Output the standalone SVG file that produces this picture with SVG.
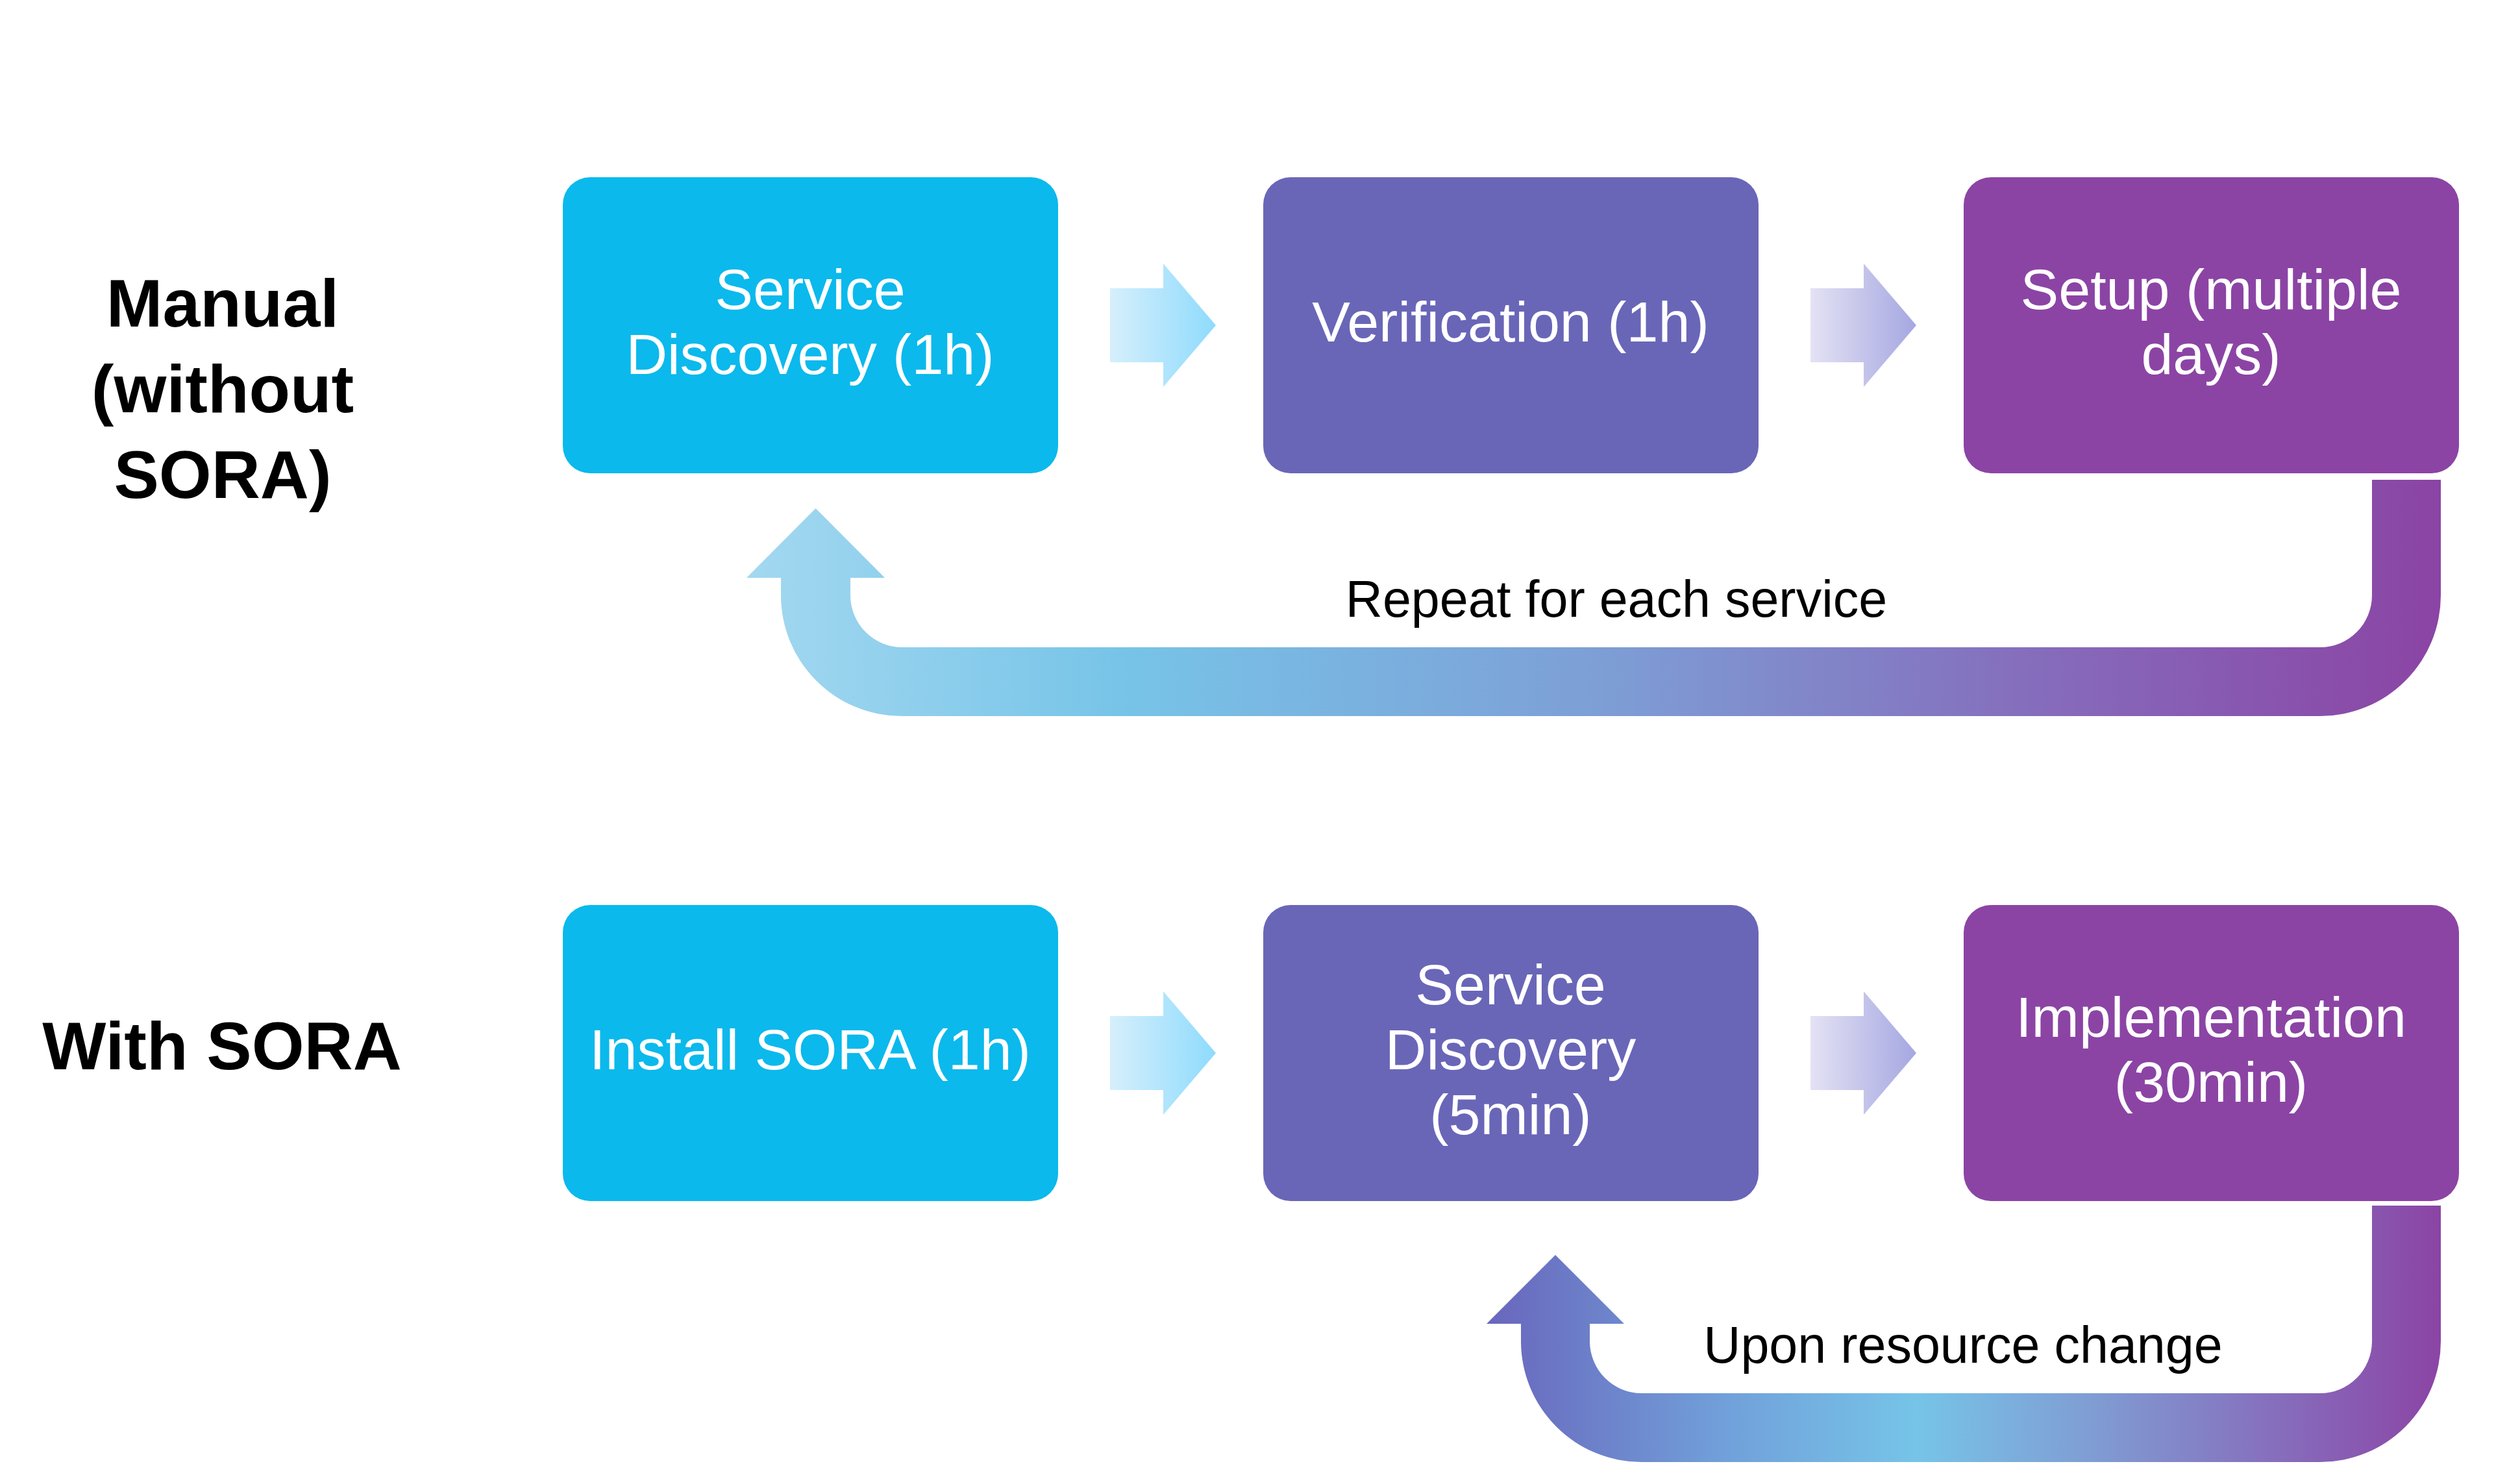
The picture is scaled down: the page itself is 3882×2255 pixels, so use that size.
<svg xmlns="http://www.w3.org/2000/svg" width="3882" height="2255" viewBox="0 0 3882 2255">
<defs>
<linearGradient id="gA" x1="0" y1="0" x2="1" y2="0"><stop offset="0" stop-color="#D6EFFC"/><stop offset="1" stop-color="#8EDBFD"/></linearGradient>
<linearGradient id="gB" x1="0" y1="0" x2="1" y2="0"><stop offset="0" stop-color="#E4E2F4"/><stop offset="1" stop-color="#A5A7E1"/></linearGradient>
<linearGradient id="gTop" gradientUnits="userSpaceOnUse" x1="1150" y1="0" x2="3760" y2="0">
<stop offset="0" stop-color="#A3D8F0"/><stop offset="0.22" stop-color="#77C4E8"/><stop offset="0.5" stop-color="#7D9FD6"/><stop offset="0.78" stop-color="#8669BA"/><stop offset="1" stop-color="#8B44A4"/></linearGradient>
<linearGradient id="gBot" gradientUnits="userSpaceOnUse" x1="2290" y1="0" x2="3760" y2="0">
<stop offset="0" stop-color="#6966BC"/><stop offset="0.25" stop-color="#71A0DA"/><stop offset="0.45" stop-color="#76C4E8"/><stop offset="0.62" stop-color="#7FA0D5"/><stop offset="0.82" stop-color="#8670BE"/><stop offset="1" stop-color="#8B44A4"/></linearGradient>
</defs>
<style>
.box{stroke:none}
.c1{fill:#0BB9EC}.c2{fill:#6966B8}.c3{fill:#8B44A4}
.bt{font-family:"Liberation Sans",Arial,sans-serif;font-size:88px;fill:#FFFFFF;text-anchor:middle}
.lbl{font-family:"Liberation Sans",Arial,sans-serif;font-size:79px;fill:#000000;text-anchor:middle}
.hd{font-family:"Liberation Sans",Arial,sans-serif;font-size:104px;font-weight:bold;fill:#000000;text-anchor:middle}
</style>
<rect width="3882" height="2255" fill="#FFFFFF"/>
<g id="label-manual"><text class="hd" x="343" y="503">Manual</text><text class="hd" x="343" y="635">(without</text><text class="hd" x="343" y="767">SORA)</text></g>
<g id="label-with"><text class="hd" x="342" y="1647">With SORA</text></g>
<g id="n1"><rect class="box c1" x="867" y="273" width="763" height="456" rx="42"/><text class="bt" x="1248" y="476">Service</text><text class="bt" x="1248" y="576">Discovery (1h)</text></g>
<g id="n2"><rect class="box c2" x="1946" y="273" width="763" height="456" rx="42"/><text class="bt" x="2327" y="526">Verification (1h)</text></g>
<g id="n3"><rect class="box c3" x="3025" y="273" width="763" height="456" rx="42"/><text class="bt" x="3406" y="476">Setup (multiple</text><text class="bt" x="3406" y="576">days)</text></g>
<g id="n4"><rect class="box c1" x="867" y="1394" width="763" height="456" rx="42"/><text class="bt" x="1248" y="1647">Install SORA (1h)</text></g>
<g id="n5"><rect class="box c2" x="1946" y="1394" width="763" height="456" rx="42"/><text class="bt" x="2327" y="1547">Service</text><text class="bt" x="2327" y="1647">Discovery</text><text class="bt" x="2327" y="1747">(5min)</text></g>
<g id="n6"><rect class="box c3" x="3025" y="1394" width="763" height="456" rx="42"/><text class="bt" x="3406" y="1597">Implementation</text><text class="bt" x="3406" y="1697">(30min)</text></g>
<g id="connectors">
<path fill="url(#gA)" d="M1710 444 H1792 V406 L1873 501 L1792 596 V558 H1710 Z"/>
<path fill="url(#gB)" d="M2789 444 H2871 V406 L2952 501 L2871 596 V558 H2789 Z"/>
<path fill="url(#gA)" d="M1710 1565 H1792 V1527 L1873 1622 L1792 1717 V1679 H1710 Z"/>
<path fill="url(#gB)" d="M2789 1565 H2871 V1527 L2952 1622 L2871 1717 V1679 H2789 Z"/>
<path fill="url(#gTop)" d="M3654 739 L3760 739 L3760 917 A186 186 0 0 1 3574 1103 L1389 1103 A186 186 0 0 1 1203 917 L1203 890 L1150 890 L1256.5 783 L1363 890 L1310 890 L1310 917 A80 80 0 0 0 1390 997 L3574 997 A80 80 0 0 0 3654 917 Z"/>
<path fill="url(#gBot)" d="M3654 1857 L3760 1857 L3760 2066 A186 186 0 0 1 3574 2252 L2529 2252 A186 186 0 0 1 2343 2066 L2343 2039 L2290 2039 L2396 1933 L2502 2039 L2449 2039 L2449 2066 A80 80 0 0 0 2529 2146 L3574 2146 A80 80 0 0 0 3654 2066 Z"/>
<text class="lbl" x="2490" y="950">Repeat for each service</text>
<text class="lbl" x="3024" y="2099">Upon resource change</text>
</g>
</svg>
